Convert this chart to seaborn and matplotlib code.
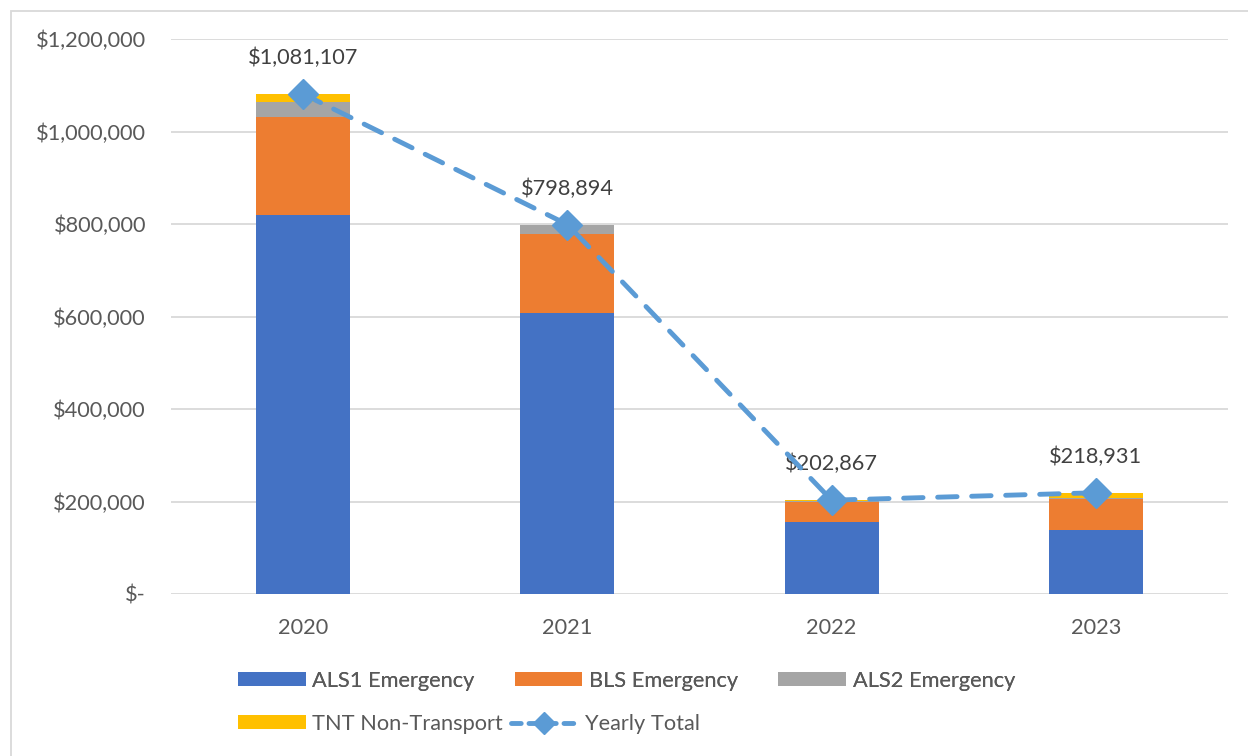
import matplotlib
matplotlib.use("Agg")
import matplotlib.pyplot as plt
from matplotlib.patches import Rectangle
from matplotlib.lines import Line2D
import seaborn as sns
import numpy as np

# Billing by service level per year
years = ["2020", "2021", "2022", "2023"]
als1 = [820300, 608200, 156300, 138400]
bls = [211900, 170200, 43300, 66300]
als2 = [32400, 20494, 1400, 3300]
tnt = [16507, 0, 1867, 10931]
totals = [1081107, 798894, 202867, 218931]
y_ticks = [0, 200000, 400000, 600000, 800000, 1000000, 1200000]

series_names = ["ALS1 Emergency", "BLS Emergency", "ALS2 Emergency", "TNT Non-Transport"]
series_colors = ["#4472C4", "#ED7D31", "#A5A5A5", "#FFC000"]
line_color = "#5B9BD5"
text_color = "#595959"
fs = 15.7

sns.set_theme(style="white")
plt.rcParams["font.family"] = ["Lato", "DejaVu Sans"]

fig = plt.figure(figsize=(12.48, 7.56), dpi=100)
ax = fig.add_axes([171 / 1248, 1 - 594 / 756, (1228 - 171) / 1248, (594 - 39) / 756])

# stacked bars: draw cumulative sums from the top layer down
layers = [als1, bls, als2, tnt]
cum = np.cumsum(np.array(layers, dtype=float), axis=0)
for i in range(len(layers) - 1, -1, -1):
    sns.barplot(x=years, y=cum[i], color=series_colors[i], width=0.355,
                saturation=1, ax=ax, zorder=2, edgecolor="none", linewidth=0)

# yearly total line
xpos = np.arange(len(years))
dash = (0, (4.0, 3.0))
ax.plot(xpos, totals, color=line_color, linewidth=3.5, linestyle=dash,
        dash_capstyle="round", marker="D", markersize=15, zorder=4)

for x, v in zip(xpos, totals):
    ax.annotate(f"${v:,.0f}", (x, v), xytext=(0, 18.5), textcoords="offset points",
                ha="center", va="bottom", fontsize=fs, color="#404040")

ax.set_xlim(-0.5, len(years) - 0.5)
ax.set_ylim(0, 1200000)
ax.set_yticks(y_ticks)
ax.set_yticklabels(["$-" if t == 0 else f"${t:,.0f}" for t in y_ticks])
ax.yaxis.grid(True, color="#D9D9D9", linewidth=1.3, zorder=0)
ax.set_axisbelow(True)
for s in ax.spines.values():
    s.set_visible(False)
ax.tick_params(axis="y", length=0, pad=18, labelsize=fs, labelcolor=text_color)
ax.tick_params(axis="x", length=0, pad=17, labelsize=fs, labelcolor=text_color)
ax.set_xlabel("")
ax.set_ylabel("")

# legend: two rows
patches = [Rectangle((0, 0), 1, 1, facecolor=c, edgecolor="none") for c in series_colors]
line_handle = Line2D([0], [0], color=line_color, linewidth=3.5, linestyle=(0, (2.0, 1.6)),
                     dash_capstyle="round", marker="D", markersize=11)
common = dict(loc="center left", frameon=False, fontsize=fs, handlelength=3.1,
              handleheight=0.62, handletextpad=0.3, labelcolor=text_color, borderaxespad=0,
              borderpad=0)
leg1 = fig.legend(patches[:3], series_names[:3], bbox_to_anchor=(238 / 1248, 1 - 681 / 756),
                  ncol=3, columnspacing=1.85, **common)
leg2 = fig.legend([patches[3], line_handle], [series_names[3], "Yearly Total"],
                  bbox_to_anchor=(238 / 1248, 1 - 724 / 756), ncol=2, columnspacing=0.35,
                  **common)
fig.add_artist(leg1)

# chart border
fig.add_artist(Rectangle((11 / 1248, -0.05), 1.1, 1 - 11 / 756 + 0.05,
                         transform=fig.transFigure, fill=False,
                         edgecolor="#D9D9D9", linewidth=1.3))

fig.savefig("out.png", dpi=100)
